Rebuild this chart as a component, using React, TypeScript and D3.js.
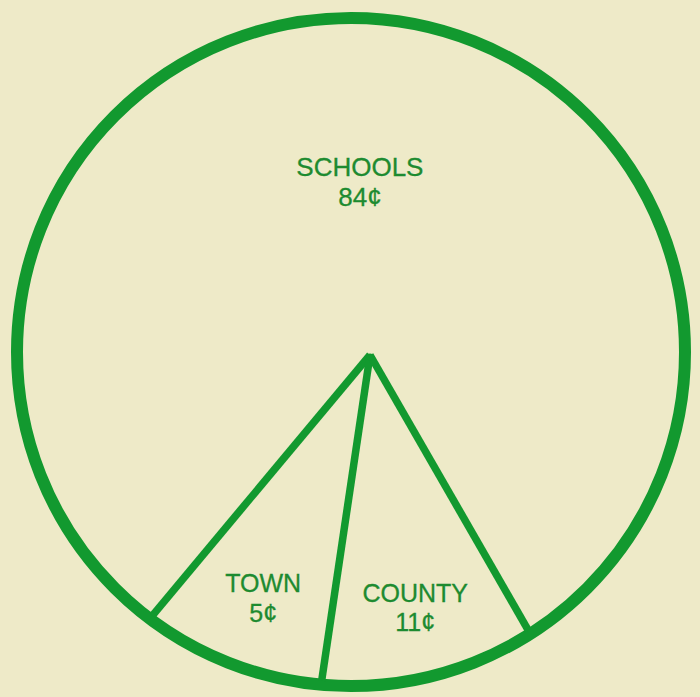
import * as d3 from 'd3';

// what each tax dollar goes to
const categories = ['SCHOOLS', 'TOWN', 'COUNTY'];
const cents = [84, 5, 11];

// angles (deg, clockwise from 12 o'clock, seen from the circle centre) where the spokes meet the rim
const spokeAngles = [217, 185.1, 147.5];

export default function App() {
    const width = 700;
    const height = 697;
    const cx = 351;
    const cy = 352;
    const r = 334;
    const hub = { x: 370, y: 355 }; // the spokes meet off-centre, as drawn
    const green = '#12992f';
    const textGreen = '#1d8b30';
    const bg = '#eeeac8';

    const toRad = d3.scaleLinear().domain([0, 360]).range([0, 2 * Math.PI]);

    const spokes = spokeAngles.map(a => {
        const [x, y] = d3.pointRadial(toRad(a), r - 4);
        return { x: cx + x, y: cy + y };
    });

    // label placement (first baseline): [angle, radius, font size]
    const labelPos: [number, number, number][] = [
        [2.9, 176, 26],
        [200.1, 255.6, 25],
        [165.6, 258, 25],
    ];

    return (
        <svg width={width} height={height}
            style={{ position: 'absolute', left: 0, top: 0, background: bg }}>
            <rect width={width} height={height} fill={bg} />
            <circle cx={cx} cy={cy} r={r} fill="none" stroke={green} strokeWidth={12} />
            {spokes.map((p, i) => (
                <line key={i} x1={hub.x} y1={hub.y} x2={p.x} y2={p.y}
                    stroke={green} strokeWidth={7.5} strokeLinecap="butt" />
            ))}
            <circle cx={hub.x} cy={hub.y + 2} r={3.5} fill={green} />
            {categories.map((c, i) => {
                const [a, lr, fs] = labelPos[i];
                const [x, y] = d3.pointRadial(toRad(a), lr);
                return (
                    <text key={c} x={cx + x} y={cy + y} textAnchor="middle"
                        fontFamily="'Liberation Sans', Arial, sans-serif" fontSize={fs} fill={textGreen}
                        stroke={textGreen} strokeWidth={0.3}>
                        <tspan x={cx + x} dy={0}>{c}</tspan>
                        <tspan x={cx + x} dy={29.5}>{cents[i]}¢</tspan>
                    </text>
                );
            })}
        </svg>
    );
}
